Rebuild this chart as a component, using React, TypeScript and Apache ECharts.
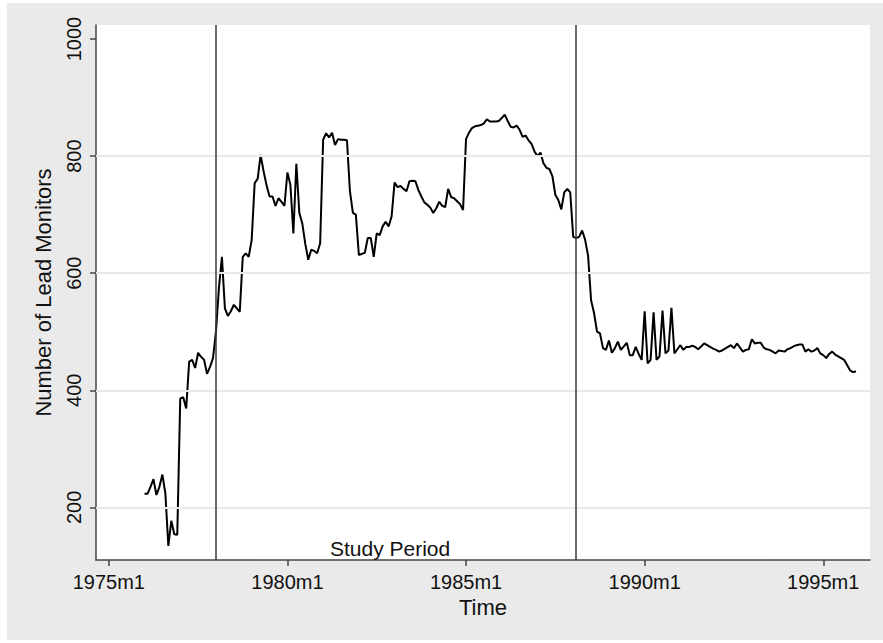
import React, { useEffect, useRef } from "react";
import * as echarts from "echarts";

// months are counted from 1975m1 (= 0); the series starts at 1976m1
const firstMonth = 12;
const leadMonitors = [
  223, 223, 235, 248, 221, 235, 256, 224, 134, 177, 154, 153,
  386, 388, 369, 449, 452, 438, 464, 457, 452, 428, 440, 455,
  500, 575, 628, 540, 527, 535, 546, 540, 534, 628, 634, 628,
  657, 754, 761, 802, 774, 750, 731, 731, 715, 728, 722, 715,
  772, 751, 668, 787, 703, 685, 650, 623, 640, 638, 634, 651,
  828, 839, 832, 840, 819, 829, 828, 828, 827, 740, 703, 700,
  631, 633, 635, 660, 660, 628, 668, 665, 680, 688, 680, 697,
  755, 747, 749, 744, 740, 757, 758, 757, 742, 731, 721, 717,
  712, 703, 711, 722, 715, 713, 744, 730, 728, 723, 718, 708,
  829, 840, 848, 851, 852, 853, 856, 863, 859, 859, 859, 860,
  865, 871, 860, 850, 849, 852, 845, 833, 835, 827, 821, 808,
  800, 806, 788, 780, 778, 766, 734, 725, 709, 738, 744, 738,
  662, 660, 662, 673, 657, 630, 554, 532, 500, 497, 472, 469,
  485, 464, 472, 483, 469, 475, 481, 460, 460, 474, 462, 452,
  535, 446, 452, 533, 452, 458, 536, 463, 468, 541, 463, 470,
  477, 469, 474, 474, 476, 474, 470, 475, 480, 477, 474, 471,
  469, 466, 468, 471, 474, 477, 472, 480, 473, 466, 469, 470,
  487, 480, 481, 481, 473, 470, 469, 466, 463, 468, 467, 466,
  470, 472, 475, 477, 478, 478, 466, 470, 466, 468, 472, 463,
  460, 455, 462, 466, 461, 458, 455, 452, 443, 434, 431, 432,
];
const xTickMonths = [0, 60, 120, 180, 240];
const yTickValues = [200, 400, 600, 800, 1000];
const yGridValues = [200, 400, 600, 800];
const studyBounds = [36, 157]; // 1978m1, 1988m2
const studyLabel = "Study Period";
const studyLabelAt = [94.5, 129];
const xTitle = "Time";
const yTitle = "Number of Lead Monitors";

const FONT = "'Liberation Sans', Arial, Helvetica, sans-serif";

export default function App() {
  const ref = useRef<HTMLDivElement>(null);
  useEffect(() => {
    if (!ref.current) return;
    const chart = echarts.init(ref.current, null, { renderer: "svg" });
    const data = leadMonitors.map((v, i) => [firstMonth + i, v]);
    chart.setOption({
      animation: false,
      backgroundColor: "#eaeaea",
      textStyle: { fontFamily: FONT },
      graphic: {
        elements: [
          { type: "rect", left: 0, top: 0, shape: { width: 883, height: 3 }, style: { fill: "#ffffff" }, silent: true },
          { type: "rect", left: 0, top: 0, shape: { width: 7, height: 643 }, style: { fill: "#ffffff" }, silent: true },
          { type: "rect", left: 0, top: 640, shape: { width: 883, height: 3 }, style: { fill: "#ffffff" }, silent: true },
        ],
      },
      grid: {
        left: 96,
        right: 13,
        top: 25,
        bottom: 83,
        show: true,
        backgroundColor: "#ffffff",
        borderWidth: 0,
      },
      xAxis: {
        type: "value",
        min: -4.3,
        max: 255.7,
        name: xTitle,
        nameLocation: "middle",
        nameGap: 36,
        nameTextStyle: { color: "#111", fontSize: 22, fontFamily: FONT },
        axisLine: { show: true, onZero: false, lineStyle: { color: "#444", width: 1.5 } },
        axisTick: { show: true, customValues: xTickMonths, length: 6, lineStyle: { color: "#444", width: 1.5 } },
        axisLabel: {
          customValues: xTickMonths,
          margin: 12,
          color: "#111",
          fontSize: 20,
          fontFamily: FONT,
          formatter: (v: number) => `${1975 + Math.round(v / 12)}m1`,
        },
        splitLine: { show: false },
      },
      yAxis: {
        type: "value",
        min: 110,
        max: 1024,
        name: yTitle,
        nameLocation: "middle",
        nameGap: 42,
        nameTextStyle: { color: "#111", fontSize: 22, fontFamily: FONT },
        axisLine: { show: true, onZero: false, lineStyle: { color: "#444", width: 1.5 } },
        axisTick: { show: true, customValues: yTickValues, length: 6, lineStyle: { color: "#444", width: 1.5 } },
        axisLabel: {
          customValues: yTickValues,
          rotate: 90,
          margin: 12,
          color: "#111",
          fontSize: 20,
          fontFamily: FONT,
          formatter: (v: number) => String(v),
        },
        splitLine: { show: false },
      },
      series: [
        {
          type: "line",
          data: [],
          z: 1,
          silent: true,
          markLine: {
            silent: true,
            symbol: "none",
            label: { show: false },
            lineStyle: { color: "#e8e8e8", width: 2, type: "solid" },
            data: yGridValues.map((v) => ({ yAxis: v })),
          },
        },
        {
          type: "line",
          data,
          z: 3,
          showSymbol: false,
          symbol: "none",
          lineStyle: { color: "#000", width: 2 },
          markLine: {
            silent: true,
            symbol: "none",
            label: { show: false },
            lineStyle: { color: "#3a3a3a", width: 1.5, type: "solid" },
            data: studyBounds.map((m) => ({ xAxis: m })),
          },
          markPoint: {
            silent: true,
            symbol: "circle",
            symbolSize: 1,
            itemStyle: { color: "rgba(0,0,0,0)" },
            label: {
              show: true,
              position: "inside",
              formatter: studyLabel,
              color: "#111",
              fontSize: 21,
              fontFamily: FONT,
            },
            data: [{ coord: studyLabelAt }],
          },
        },
      ],
    });
    return () => chart.dispose();
  }, []);
  return (
    <div style={{ position: "fixed", left: 0, top: 0, width: 883, height: 643, background: "#fff" }}>
      <div ref={ref} style={{ width: 883, height: 643 }} />
    </div>
  );
}
